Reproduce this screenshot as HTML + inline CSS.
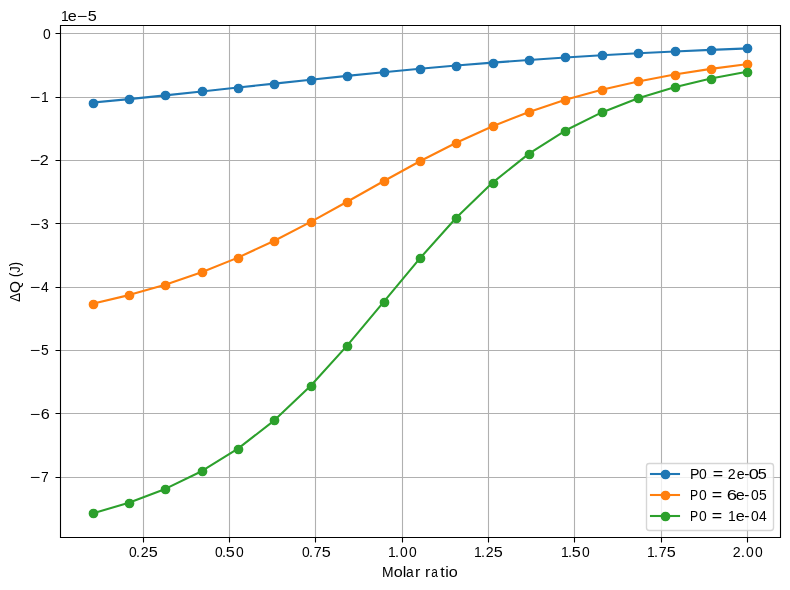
<!DOCTYPE html><html><head><meta charset="utf-8"><style>html,body{margin:0;padding:0;background:#fff;width:790px;height:590px;overflow:hidden}svg{display:block;will-change:transform}text{font-family:"Liberation Sans",sans-serif;fill:#000;font-size:13.889px}</style></head><body>
<svg width="790" height="590" viewBox="0 0 790 590">
<rect width="790" height="590" fill="#fff"/>
<path d="M143.5 25.5V537.5M229.5 25.5V537.5M315.5 25.5V537.5M402.5 25.5V537.5M488.5 25.5V537.5M574.5 25.5V537.5M661.5 25.5V537.5M747.5 25.5V537.5M60.5 33.5H780.5M60.5 97.5H780.5M60.5 160.5H780.5M60.5 223.5H780.5M60.5 287.5H780.5M60.5 350.5H780.5M60.5 413.5H780.5M60.5 477.5H780.5" stroke="#b0b0b0" stroke-width="1.111" fill="none"/>
<path d="M92.52 102.63L128.89 99.09L165.26 95.36L201.64 91.49L238.01 87.55L274.39 83.59L310.76 79.67L347.14 75.87L383.51 72.23L419.89 68.79L456.26 65.58L492.64 62.63L529.01 59.92L565.39 57.46L601.76 55.24L638.14 53.25L674.51 51.46L710.89 49.85L747.26 48.42" stroke="#1f77b4" stroke-width="2.083" fill="none" stroke-linejoin="round" stroke-linecap="square"/>
<g fill="#1f77b4" stroke="#1f77b4" stroke-width="1.389">
<circle cx="93.5" cy="103.5" r="4.167"/><circle cx="129.5" cy="99.5" r="4.167"/><circle cx="165.5" cy="95.5" r="4.167"/><circle cx="202.5" cy="91.5" r="4.167"/><circle cx="238.5" cy="88.5" r="4.167"/><circle cx="274.5" cy="84.5" r="4.167"/><circle cx="311.5" cy="80.5" r="4.167"/><circle cx="347.5" cy="76.5" r="4.167"/><circle cx="384.5" cy="72.5" r="4.167"/><circle cx="420.5" cy="69.5" r="4.167"/><circle cx="456.5" cy="66.5" r="4.167"/><circle cx="493.5" cy="63.5" r="4.167"/><circle cx="529.5" cy="60.5" r="4.167"/><circle cx="565.5" cy="57.5" r="4.167"/><circle cx="602.5" cy="55.5" r="4.167"/><circle cx="638.5" cy="53.5" r="4.167"/><circle cx="675.5" cy="51.5" r="4.167"/><circle cx="711.5" cy="50.5" r="4.167"/><circle cx="747.5" cy="48.5" r="4.167"/>
</g>
<path d="M92.52 303.72L128.89 295.12L165.26 284.73L201.64 272.29L238.01 257.61L274.39 240.72L310.76 221.90L347.14 201.78L383.51 181.24L419.89 161.28L456.26 142.75L492.64 126.21L529.01 111.92L565.39 99.83L601.76 89.76L638.14 81.43L674.51 74.57L710.89 68.90L747.26 64.21" stroke="#ff7f0e" stroke-width="2.083" fill="none" stroke-linejoin="round" stroke-linecap="square"/>
<g fill="#ff7f0e" stroke="#ff7f0e" stroke-width="1.389">
<circle cx="93.5" cy="304.5" r="4.167"/><circle cx="129.5" cy="295.5" r="4.167"/><circle cx="165.5" cy="285.5" r="4.167"/><circle cx="202.5" cy="272.5" r="4.167"/><circle cx="238.5" cy="258.5" r="4.167"/><circle cx="274.5" cy="241.5" r="4.167"/><circle cx="311.5" cy="222.5" r="4.167"/><circle cx="347.5" cy="202.5" r="4.167"/><circle cx="384.5" cy="181.5" r="4.167"/><circle cx="420.5" cy="161.5" r="4.167"/><circle cx="456.5" cy="143.5" r="4.167"/><circle cx="493.5" cy="126.5" r="4.167"/><circle cx="529.5" cy="112.5" r="4.167"/><circle cx="565.5" cy="100.5" r="4.167"/><circle cx="602.5" cy="90.5" r="4.167"/><circle cx="638.5" cy="81.5" r="4.167"/><circle cx="675.5" cy="75.5" r="4.167"/><circle cx="711.5" cy="69.5" r="4.167"/><circle cx="747.5" cy="64.5" r="4.167"/>
</g>
<path d="M92.52 513.47L128.89 502.70L165.26 488.91L201.64 471.24L238.01 448.67L274.39 420.31L310.76 385.74L347.14 345.63L383.51 302.09L419.89 258.37L456.26 217.79L492.64 182.62L529.01 153.64L565.39 130.53L601.76 112.41L638.14 98.28L674.51 87.24L710.89 78.56L747.26 71.67" stroke="#2ca02c" stroke-width="2.083" fill="none" stroke-linejoin="round" stroke-linecap="square"/>
<g fill="#2ca02c" stroke="#2ca02c" stroke-width="1.389">
<circle cx="93.5" cy="513.5" r="4.167"/><circle cx="129.5" cy="503.5" r="4.167"/><circle cx="165.5" cy="489.5" r="4.167"/><circle cx="202.5" cy="471.5" r="4.167"/><circle cx="238.5" cy="449.5" r="4.167"/><circle cx="274.5" cy="420.5" r="4.167"/><circle cx="311.5" cy="386.5" r="4.167"/><circle cx="347.5" cy="346.5" r="4.167"/><circle cx="384.5" cy="302.5" r="4.167"/><circle cx="420.5" cy="258.5" r="4.167"/><circle cx="456.5" cy="218.5" r="4.167"/><circle cx="493.5" cy="183.5" r="4.167"/><circle cx="529.5" cy="154.5" r="4.167"/><circle cx="565.5" cy="131.5" r="4.167"/><circle cx="602.5" cy="112.5" r="4.167"/><circle cx="638.5" cy="98.5" r="4.167"/><circle cx="675.5" cy="87.5" r="4.167"/><circle cx="711.5" cy="79.5" r="4.167"/><circle cx="747.5" cy="72.5" r="4.167"/>
</g>
<path d="M60.5 24.945V538.055M780.5 24.945V538.055M59.945 25.5H781.055M59.945 537.5H781.055" stroke="#000" stroke-width="1.111" fill="none"/>
<path d="M143.5 537.5V542.5M229.5 537.5V542.5M315.5 537.5V542.5M402.5 537.5V542.5M488.5 537.5V542.5M574.5 537.5V542.5M661.5 537.5V542.5M747.5 537.5V542.5M60.5 33.5H55.5M60.5 97.5H55.5M60.5 160.5H55.5M60.5 223.5H55.5M60.5 287.5H55.5M60.5 350.5H55.5M60.5 413.5H55.5M60.5 477.5H55.5" stroke="#000" stroke-width="1.111" fill="none"/>
<text transform="translate(129.00,557.00) scale(1.000,1.000)">0</text>
<text transform="translate(135.93,557.00) scale(1.037,1.000)">.</text>
<text transform="translate(140.85,557.00) scale(1.021,1.000)">2</text>
<text transform="translate(148.83,557.00) scale(1.167,1.000)">5</text>
<text transform="translate(215.00,557.00) scale(1.000,1.000)">0</text>
<text transform="translate(221.93,557.00) scale(1.037,1.000)">.</text>
<text transform="translate(225.83,557.00) scale(1.167,1.000)">5</text>
<text transform="translate(236.00,557.00) scale(1.000,1.000)">0</text>
<text transform="translate(302.00,557.00) scale(1.000,1.000)">0</text>
<text transform="translate(308.93,557.00) scale(1.037,1.000)">.</text>
<text transform="translate(313.85,557.00) scale(1.021,1.000)">7</text>
<text transform="translate(321.83,557.00) scale(1.167,1.000)">5</text>
<text transform="translate(388.00,557.00) scale(1.000,1.000)">1</text>
<text transform="translate(394.92,557.00) scale(1.038,1.000)">.</text>
<text transform="translate(400.00,557.00) scale(1.000,1.000)">0</text>
<text transform="translate(409.00,557.00) scale(1.000,1.000)">0</text>
<text transform="translate(474.00,557.00) scale(1.000,1.000)">1</text>
<text transform="translate(480.92,557.00) scale(1.038,1.000)">.</text>
<text transform="translate(485.85,557.00) scale(1.021,1.000)">2</text>
<text transform="translate(493.83,557.00) scale(1.167,1.000)">5</text>
<text transform="translate(561.00,557.00) scale(1.000,1.000)">1</text>
<text transform="translate(567.92,557.00) scale(1.038,1.000)">.</text>
<text transform="translate(571.83,557.00) scale(1.167,1.000)">5</text>
<text transform="translate(582.00,557.00) scale(1.000,1.000)">0</text>
<text transform="translate(647.00,557.00) scale(1.000,1.000)">1</text>
<text transform="translate(653.92,557.00) scale(1.038,1.000)">.</text>
<text transform="translate(658.85,557.00) scale(1.021,1.000)">7</text>
<text transform="translate(666.83,557.00) scale(1.167,1.000)">5</text>
<text transform="translate(732.85,557.00) scale(1.021,1.000)">2</text>
<text transform="translate(740.77,557.00) scale(1.115,1.000)">.</text>
<text transform="translate(746.00,557.00) scale(1.000,1.000)">0</text>
<text transform="translate(755.00,557.00) scale(1.000,1.000)">0</text>
<text transform="translate(43.00,39.00) scale(1.000,1.000)">0</text>
<text transform="translate(29.71,102.00) scale(1.286,1.000)">−</text>
<text transform="translate(41.00,102.00) scale(1.000,1.000)">1</text>
<text transform="translate(29.71,165.00) scale(1.286,1.000)">−</text>
<text transform="translate(39.83,165.00) scale(1.167,1.000)">2</text>
<text transform="translate(29.71,229.00) scale(1.286,1.000)">−</text>
<text transform="translate(41.00,229.00) scale(1.000,1.000)">3</text>
<text transform="translate(29.71,292.00) scale(1.286,1.000)">−</text>
<text transform="translate(41.00,292.00) scale(1.000,1.000)">4</text>
<text transform="translate(29.71,355.00) scale(1.286,1.000)">−</text>
<text transform="translate(41.00,355.00) scale(1.000,1.000)">5</text>
<text transform="translate(29.71,419.00) scale(1.286,1.000)">−</text>
<text transform="translate(40.83,419.00) scale(1.167,1.000)">6</text>
<text transform="translate(29.71,482.00) scale(1.286,1.000)">−</text>
<text transform="translate(41.00,482.00) scale(1.000,1.000)">7</text>
<text transform="translate(382.00,577.00) scale(1.000,1.000)">M</text>
<text transform="translate(393.83,577.00) scale(1.167,1.000)">o</text>
<text transform="translate(402.77,577.00) scale(1.156,1.000)">l</text>
<text transform="translate(406.00,577.00) scale(1.000,1.000)">a</text>
<text transform="translate(415.03,577.00) scale(1.156,1.000)">r</text>
<text transform="translate(425.03,577.00) scale(1.156,1.000)">r</text>
<text transform="translate(431.14,577.00) scale(0.857,1.000)">a</text>
<text transform="translate(440.19,577.00) scale(1.156,1.000)">t</text>
<text transform="translate(445.27,577.00) scale(1.156,1.000)">i</text>
<text transform="translate(448.83,577.00) scale(1.167,1.000)">o</text>
<text transform="translate(61.00,21.00) scale(1.000,1.000)">1</text>
<text transform="translate(67.83,21.00) scale(1.167,1.000)">e</text>
<text transform="translate(76.71,21.00) scale(1.286,1.000)">−</text>
<text transform="translate(87.83,21.00) scale(1.167,1.000)">5</text>
<text transform="translate(20.00,302.00) rotate(-90) scale(1.000,1.000)">Δ</text>
<text transform="translate(20.00,293.11) rotate(-90) scale(1.111,1.000)">Q</text>
<text transform="translate(20.00,276.93) rotate(-90) scale(0.929,1.000)">(J)</text>
<rect x="646.5" y="463.5" width="127" height="67" rx="2.78" ry="2.78" fill="#fff" fill-opacity="0.8" stroke="#ccc" stroke-opacity="0.8" stroke-width="1.389"/>
<path d="M651 474H679" stroke="#1f77b4" stroke-width="2.083" stroke-linecap="square"/>
<circle cx="665.5" cy="474.5" r="4.167" fill="#1f77b4" stroke="#1f77b4" stroke-width="1.389"/>
<path d="M651 495H679" stroke="#ff7f0e" stroke-width="2.083" stroke-linecap="square"/>
<circle cx="665.5" cy="495.5" r="4.167" fill="#ff7f0e" stroke="#ff7f0e" stroke-width="1.389"/>
<path d="M651 516H679" stroke="#2ca02c" stroke-width="2.083" stroke-linecap="square"/>
<circle cx="665.5" cy="516.5" r="4.167" fill="#2ca02c" stroke="#2ca02c" stroke-width="1.389"/>
<text transform="translate(689.98,479.00) scale(1.021,1.000)">P</text>
<text transform="translate(699.00,479.00) scale(1.000,1.000)">0</text>
<text transform="translate(712.71,479.00) scale(1.286,1.000)">=</text>
<text transform="translate(727.85,479.00) scale(1.021,1.000)">2</text>
<text transform="translate(736.85,479.00) scale(1.021,1.000)">e</text>
<text transform="translate(744.20,479.00) scale(1.119,1.000)">-</text>
<text transform="translate(748.86,479.00) scale(1.306,1.000)">0</text>
<text transform="translate(757.83,479.00) scale(1.167,1.000)">5</text>
<text transform="translate(690.12,500.00) scale(0.875,1.000)">P</text>
<text transform="translate(699.00,500.00) scale(1.000,1.000)">0</text>
<text transform="translate(711.71,500.00) scale(1.286,1.000)">=</text>
<text transform="translate(726.67,500.00) scale(1.333,1.000)">6</text>
<text transform="translate(735.83,500.00) scale(1.167,1.000)">e</text>
<text transform="translate(744.20,500.00) scale(1.119,1.000)">-</text>
<text transform="translate(751.00,500.00) scale(1.000,1.000)">0</text>
<text transform="translate(759.00,500.00) scale(1.000,1.000)">5</text>
<text transform="translate(690.12,521.00) scale(0.875,1.000)">P</text>
<text transform="translate(699.00,521.00) scale(1.000,1.000)">0</text>
<text transform="translate(711.71,521.00) scale(1.286,1.000)">=</text>
<text transform="translate(728.00,521.00) scale(1.000,1.000)">1</text>
<text transform="translate(735.83,521.00) scale(1.167,1.000)">e</text>
<text transform="translate(744.16,521.00) scale(1.134,1.000)">-</text>
<text transform="translate(751.00,521.00) scale(1.000,1.000)">0</text>
<text transform="translate(759.00,521.00) scale(1.000,1.000)">4</text>
</svg></body></html>
